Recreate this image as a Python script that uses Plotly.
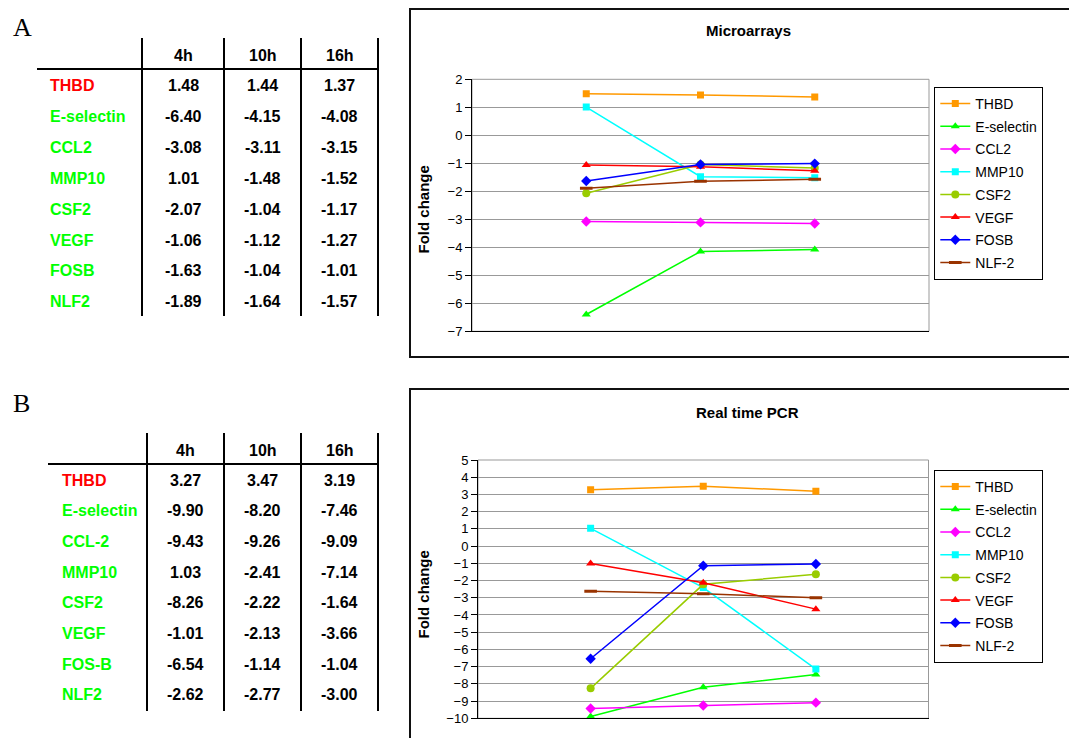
import plotly.graph_objects as go

W, H = 1069, 738

# ---- data -------------------------------------------------------------
timepoints = ["4h", "10h", "16h"]

legend_names = ["THBD", "E-selectin", "CCL2", "MMP10", "CSF2", "VEGF", "FOSB", "NLF-2"]
table_a_genes = ["THBD", "E-selectin", "CCL2", "MMP10", "CSF2", "VEGF", "FOSB", "NLF2"]
table_b_genes = ["THBD", "E-selectin", "CCL-2", "MMP10", "CSF2", "VEGF", "FOS-B", "NLF2"]

# Microarray fold changes (4h, 10h, 16h)
ma_thbd = [1.48, 1.44, 1.37]
ma_esel = [-6.40, -4.15, -4.08]
ma_ccl2 = [-3.08, -3.11, -3.15]
ma_mmp10 = [1.01, -1.48, -1.52]
ma_csf2 = [-2.07, -1.04, -1.17]
ma_vegf = [-1.06, -1.12, -1.27]
ma_fosb = [-1.63, -1.04, -1.01]
ma_nlf2 = [-1.89, -1.64, -1.57]

# Real time PCR fold changes (4h, 10h, 16h)
pcr_thbd = [3.27, 3.47, 3.19]
pcr_esel = [-9.90, -8.20, -7.46]
pcr_ccl2 = [-9.43, -9.26, -9.09]
pcr_mmp10 = [1.03, -2.41, -7.14]
pcr_csf2 = [-8.26, -2.22, -1.64]
pcr_vegf = [-1.01, -2.13, -3.66]
pcr_fosb = [-6.54, -1.14, -1.04]
pcr_nlf2 = [-2.62, -2.77, -3.00]

ma_series = [ma_thbd, ma_esel, ma_ccl2, ma_mmp10, ma_csf2, ma_vegf, ma_fosb, ma_nlf2]
pcr_series = [pcr_thbd, pcr_esel, pcr_ccl2, pcr_mmp10, pcr_csf2, pcr_vegf, pcr_fosb, pcr_nlf2]

# ---- styles -----------------------------------------------------------
colors = ["#FF9900", "#00FF00", "#FF00FF", "#00FFFF", "#99CC00", "#FF0000", "#0000FF", "#993300"]
symbols = ["square", "triangle-up", "diamond", "square", "circle", "triangle-up", "diamond", "line-ew"]
sizes = [7, 8, 8, 7, 8, 8, 8, 9]
label_colors = ["#FF0000"] + ["#00FF00"] * 7

SANS = "Liberation Sans, Arial, sans-serif"
SERIF = "Liberation Serif, Times New Roman, serif"


def px(x):
    return x / W


def py(y):
    return 1 - y / H


fig = go.Figure()


def add_series(series, xaxis, yaxis, legend, prefix):
    for i, vals in enumerate(series):
        marker = dict(color=colors[i], size=sizes[i], symbol=symbols[i])
        if symbols[i] == "line-ew":
            marker["line"] = dict(color=colors[i], width=3)
        else:
            marker["line"] = dict(width=0)
        fig.add_trace(go.Scatter(
            x=timepoints, y=vals, name=legend_names[i],
            mode="lines+markers",
            line=dict(color=colors[i], width=1.5),
            marker=marker,
            xaxis=xaxis, yaxis=yaxis,
            legend=legend, legendgroup=prefix + str(i),
            hoverinfo="skip",
        ))


add_series(ma_series, "x", "y", "legend", "ma")
add_series(pcr_series, "x2", "y2", "legend2", "pcr")

xcommon = dict(type="category", range=[-1, 3], showgrid=False, showticklabels=False,
               ticks="", showline=True, linecolor="black", linewidth=1,
               zeroline=False, fixedrange=True, automargin=False)
ycommon = dict(dtick=1, showgrid=True, gridcolor="#999999", gridwidth=1,
               ticks="outside", ticklen=6, tickcolor="black", tickwidth=1,
               showline=True, linecolor="black", linewidth=1, zeroline=False,
               tickfont=dict(family=SANS, size=13, color="black"), fixedrange=True,
               automargin=False)

legend_common = dict(xanchor="left", yanchor="top", bgcolor="white",
                     bordercolor="black", borderwidth=1,
                     font=dict(family=SANS, size=14, color="black"),
                     itemwidth=30, tracegroupgap=1.5, traceorder="grouped")

fig.update_layout(
    width=W, height=H, autosize=False,
    margin=dict(l=0, r=0, t=0, b=0),
    paper_bgcolor="white", plot_bgcolor="white",
    showlegend=True,
    xaxis=dict(domain=[px(472), px(929)], anchor="y", **xcommon),
    yaxis=dict(domain=[py(331.3), py(79.3)], range=[-7, 2], anchor="x", **ycommon),
    xaxis2=dict(domain=[px(478), px(928.5)], anchor="y2", **xcommon),
    yaxis2=dict(domain=[py(718.3), py(460)], range=[-10, 5], anchor="x2", **ycommon),
    legend=dict(x=px(934.3), y=py(87), **legend_common),
    legend2=dict(x=px(934.3), y=py(470), **legend_common),
)

shapes = []
# chart frames (run off the right / bottom edges)
shapes.append(dict(type="rect", xref="paper", yref="paper",
                   x0=px(410), x1=px(1080), y0=py(357), y1=py(9),
                   line=dict(color="#111111", width=2), layer="below"))
shapes.append(dict(type="rect", xref="paper", yref="paper",
                   x0=px(410), x1=px(1080), y0=py(760), y1=py(389),
                   line=dict(color="#111111", width=2), layer="below"))
# plot-area borders
for xr, yr in (("x", "y"), ("x2", "y2")):
    shapes.append(dict(type="rect", xref=xr + " domain", yref=yr + " domain",
                       x0=0, x1=1, y0=0, y1=1,
                       line=dict(color="#999999", width=1), layer="below"))


def table(genes, series, col_lines, y_top, y_bottom, hline_y, hline_x0,
          header_y, row_y0, row_step, label_x):
    for xl in col_lines:
        shapes.append(dict(type="line", xref="paper", yref="paper",
                           x0=px(xl), x1=px(xl), y0=py(y_top), y1=py(y_bottom),
                           line=dict(color="black", width=2)))
    shapes.append(dict(type="line", xref="paper", yref="paper",
                       x0=px(hline_x0), x1=px(col_lines[-1]), y0=py(hline_y), y1=py(hline_y),
                       line=dict(color="black", width=2)))
    centers = [(col_lines[j] + col_lines[j + 1]) / 2 for j in range(3)]
    for j, t in enumerate(timepoints):
        fig.add_annotation(x=px(centers[j]), y=py(header_y), xref="paper", yref="paper",
                           text="<b>%s</b>" % t, showarrow=False,
                           font=dict(family=SANS, size=16, color="black"),
                           xanchor="center", yanchor="middle")
    for i, g in enumerate(genes):
        yy = row_y0 + i * row_step
        fig.add_annotation(x=px(label_x), y=py(yy), xref="paper", yref="paper",
                           text="<b>%s</b>" % g, showarrow=False,
                           font=dict(family=SANS, size=16, color=label_colors[i]),
                           xanchor="left", yanchor="middle")
        for j in range(3):
            fig.add_annotation(x=px(centers[j]), y=py(yy), xref="paper", yref="paper",
                               text="<b>%.2f</b>" % series[i][j], showarrow=False,
                               font=dict(family=SANS, size=16, color="black"),
                               xanchor="center", yanchor="middle")


table(table_a_genes, ma_series, [142, 224, 301, 378], 38, 316, 69, 37, 55, 86, 30.8, 48)
table(table_b_genes, pcr_series, [147, 224, 301, 378], 433, 711, 464, 48, 450, 480, 30.7, 60)

# panel letters
fig.add_annotation(x=px(22), y=py(27), xref="paper", yref="paper", text="A", showarrow=False,
                   font=dict(family=SERIF, size=26, color="black"), xanchor="center", yanchor="middle")
fig.add_annotation(x=px(21), y=py(403), xref="paper", yref="paper", text="B", showarrow=False,
                   font=dict(family=SERIF, size=26, color="black"), xanchor="center", yanchor="middle")

# chart titles
fig.add_annotation(x=px(748), y=py(31), xref="paper", yref="paper", text="<b>Microarrays</b>",
                   showarrow=False, font=dict(family=SANS, size=15, color="black"),
                   xanchor="center", yanchor="middle")
fig.add_annotation(x=px(747), y=py(412), xref="paper", yref="paper", text="<b>Real time PCR</b>",
                   showarrow=False, font=dict(family=SANS, size=15, color="black"),
                   xanchor="center", yanchor="middle")

# y-axis titles
for yc in (210, 595):
    fig.add_annotation(x=px(422.5), y=py(yc), xref="paper", yref="paper", text="<b>Fold change</b>",
                       showarrow=False, textangle=-90,
                       font=dict(family=SANS, size=15, color="black"),
                       xanchor="center", yanchor="middle")

fig.update_layout(shapes=shapes)

# the figure fills the page exactly, so drop the default body margin
page_css = "document.body.style.margin='0';document.body.style.overflow='hidden';"
fig.write_html("out.html", post_script=page_css)
